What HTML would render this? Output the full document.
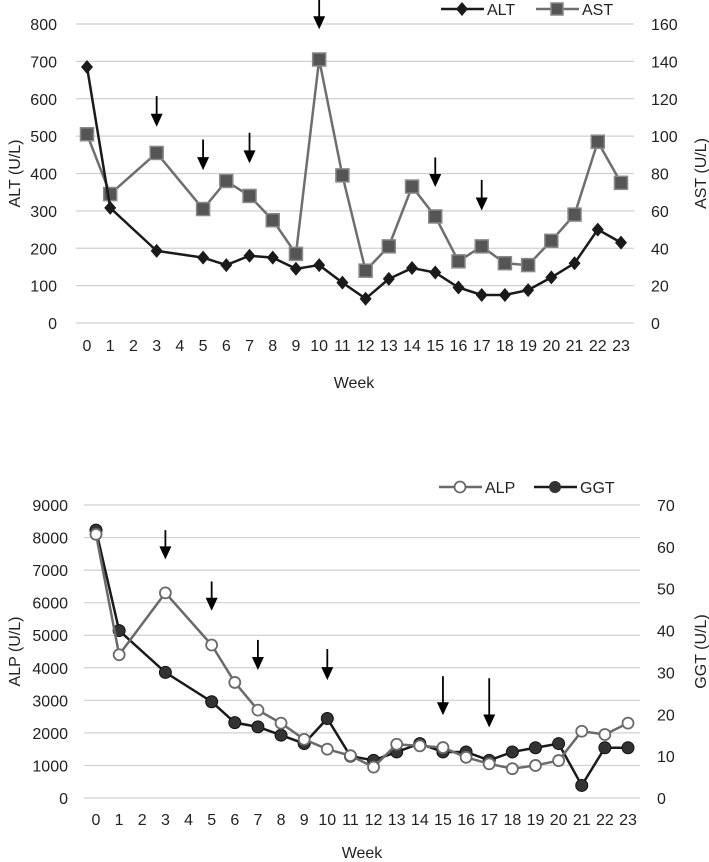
<!DOCTYPE html>
<html><head><meta charset="utf-8">
<style>
html,body{margin:0;padding:0;background:#fff;}
svg{display:block;font-family:"Liberation Sans",sans-serif;}
text{fill:#222;font-size:16px;}
</style></head>
<body>
<svg id="chart" width="709" height="862" viewBox="0 0 709 862"></svg>
<script>
const weeks = [0,1,3,5,6,7,8,9,10,11,12,13,14,15,16,17,18,19,20,21,22,23];
const tickWeeks = [0,1,2,3,4,5,6,7,8,9,10,11,12,13,14,15,16,17,18,19,20,21,22,23];
const altValues = [685,308,193,175,155,180,175,145,155,108,65,118,147,135,95,75,75,88,122,160,250,215];
const astValues = [101,69,91,61,76,68,55,37,141,79,28,41,73,57,33,41,32,31,44,58,97,75];
const alpValues = [8100,4400,6300,4700,3550,2700,2300,1800,1500,1300,950,1650,1600,1550,1250,1050,900,1000,1150,2050,1950,2300];
const ggtValues = [64,40,30,23,18,17,15,13,19,10,9,11,13,11,11,9,11,12,13,3,12,12];
const topLeftTicks = [0,100,200,300,400,500,600,700,800];
const topRightTicks = [0,20,40,60,80,100,120,140,160];
const botLeftTicks = [0,1000,2000,3000,4000,5000,6000,7000,8000,9000];
const botRightTicks = [0,10,20,30,40,50,60,70];
const topArrowWeeks = [3,5,7,10,15,17];
const topArrowStarts = [607,491,509,865,443,383];
const topArrowTips = [525,409,427,786,364,301];
const botArrowWeeks = [3,5,7,10,15,17];
const botArrowStarts = [8227,6650,4856,4577,3742,3680];
const botArrowTips = [7330,5750,3930,3620,2540,2165];

const NS="http://www.w3.org/2000/svg";
const svg=document.getElementById('chart');
function mk(tag,attrs,parent){const e=document.createElementNS(NS,tag);for(const k in attrs)e.setAttribute(k,attrs[k]);(parent||svg).appendChild(e);return e;}

function drawChart(cfg){
  const g=mk('g',{});
  
  
  const x=w=>cfg.x0+(cfg.x1-cfg.x0)*w/23;
  const yL=v=>cfg.yb+(cfg.yt-cfg.yb)*v/cfg.lmax;
  const yR=v=>cfg.yb+(cfg.yt-cfg.yb)*v/cfg.rmax;
  cfg.lt.forEach(t=>{
    const l=mk('line',{x1:cfg.gx0,x2:cfg.gx1,y1:yL(t),y2:yL(t),stroke:'#d0d0d0','stroke-width':1.2},g);
    
    
    const tx=mk('text',{x:cfg.lx,y:yL(t)+6,'text-anchor':'end','font-size':17},g);tx.textContent=t;
    
    
  });
  cfg.rt.forEach(t=>{
    const tx=mk('text',{x:cfg.rx,y:yR(t)+6,'text-anchor':'start','font-size':17},g);tx.textContent=t;
    
    
  });
  tickWeeks.forEach(w=>{
    const tx=mk('text',{x:x(w),y:cfg.xly,'text-anchor':'middle'},g);tx.textContent=w;
    
    
  });
  const xt=mk('text',{x:(cfg.x0+cfg.x1)/2,y:cfg.weekY,'text-anchor':'middle','font-size':17},g);xt.textContent='Week';
  
  
  const ym=(cfg.yb+cfg.yt)/2;
  const lt=mk('text',{x:0,y:0,'text-anchor':'middle',transform:`translate(${cfg.ltx},${ym}) rotate(-90)`,'font-size':17},g);lt.textContent=cfg.ltitle;
  
  
  const rt=mk('text',{x:0,y:0,'text-anchor':'middle',transform:`translate(${cfg.rtx},${ym}) rotate(-90)`,'font-size':17},g);rt.textContent=cfg.rtitle;
  
  
  cfg.series.forEach(s=>{
    const yf=s.axis==='L'?yL:yR;
    const pts=weeks.map((w,i)=>x(w)+','+yf(s.vals[i])).join(' ');
    const pl=mk('polyline',{points:pts,fill:'none',stroke:s.color,'stroke-width':2.5},g);
    
    
    weeks.forEach((w,i)=>{
      const cx=x(w),cy=yf(s.vals[i]);let m;
      if(s.marker==='diamond')m=mk('polygon',{points:`${cx},${cy-7} ${cx+6},${cy} ${cx},${cy+7} ${cx-6},${cy}`,fill:s.color},g);
      else if(s.marker==='square')m=mk('rect',{x:cx-6.5,y:cy-6.5,width:13,height:13,fill:'#555',stroke:'#888','stroke-width':1.5},g);
      else if(s.marker==='open')m=mk('circle',{cx:cx,cy:cy,r:5.5,fill:'#fff',stroke:s.color,'stroke-width':1.8},g);
      else m=mk('circle',{cx:cx,cy:cy,r:6,fill:'#333',stroke:'#111','stroke-width':1},g);
      
      
    });
  });
  cfg.aw.forEach((w,i)=>{
    const tip=yL(cfg.at[i]);const top=Math.max(0,yL(cfg.as[i]));const ax=x(w);
    const a=mk('g',{},g);
    
    
    mk('line',{x1:ax,x2:ax,y1:top,y2:tip-10,stroke:'#000','stroke-width':1.8},a);
    mk('polygon',{points:`${ax-6},${tip-13} ${ax+6},${tip-13} ${ax},${tip}`,fill:'#000'},a);
  });
  cfg.legend.forEach(L=>{
    const lg=mk('g',{},g);
    
    
    mk('line',{x1:L.x,x2:L.x+43,y1:cfg.legY,y2:cfg.legY,stroke:L.color,'stroke-width':2.5},lg);
    const cx=L.x+21,cy=cfg.legY;
    if(L.marker==='diamond')mk('polygon',{points:`${cx},${cy-7} ${cx+6},${cy} ${cx},${cy+7} ${cx-6},${cy}`,fill:L.color},lg);
    else if(L.marker==='square')mk('rect',{x:cx-6,y:cy-6,width:12,height:12,fill:'#555',stroke:'#888','stroke-width':1.5},lg);
    else if(L.marker==='open')mk('circle',{cx:cx,cy:cy,r:5.5,fill:'#fff',stroke:L.color,'stroke-width':1.8},lg);
    else mk('circle',{cx:cx,cy:cy,r:6,fill:'#333'},lg);
    const t=mk('text',{x:L.x+46,y:cfg.legY+6,'font-size':17},lg);t.textContent=L.label;
  });
}

drawChart({name:'alt-ast-chart',x0:87,x1:621,gx0:76,gx1:634,yt:24,yb:323,lmax:800,rmax:160,lt:topLeftTicks,rt:topRightTicks,
 lx:57,rx:651,xly:351,weekY:388,ltx:20,rtx:706,ltitle:'ALT (U/L)',rtitle:'AST (U/L)',
 series:[{key:'ast',vals:astValues,axis:'R',color:'#6e6e6e',marker:'square'},{key:'alt',vals:altValues,axis:'L',color:'#1a1a1a',marker:'diamond'}],
 aw:topArrowWeeks,as:topArrowStarts,at:topArrowTips,legY:9,
 legend:[{key:'alt',x:441,label:'ALT',color:'#1a1a1a',marker:'diamond'},{key:'ast',x:536,label:'AST',color:'#6e6e6e',marker:'square'}]});

drawChart({name:'alp-ggt-chart',x0:96,x1:628,gx0:84,gx1:640,yt:505,yb:798,lmax:9000,rmax:70,lt:botLeftTicks,rt:botRightTicks,
 lx:68,rx:657,xly:825,weekY:858,ltx:20,rtx:706,ltitle:'ALP (U/L)',rtitle:'GGT (U/L)',
 series:[{key:'ggt',vals:ggtValues,axis:'R',color:'#1a1a1a',marker:'filled'},{key:'alp',vals:alpValues,axis:'L',color:'#6a6a6a',marker:'open'}],
 aw:botArrowWeeks,as:botArrowStarts,at:botArrowTips,legY:487,
 legend:[{key:'alp',x:439,label:'ALP',color:'#6a6a6a',marker:'open'},{key:'ggt',x:534,label:'GGT',color:'#1a1a1a',marker:'filled'}]});
</script>
</body></html>
